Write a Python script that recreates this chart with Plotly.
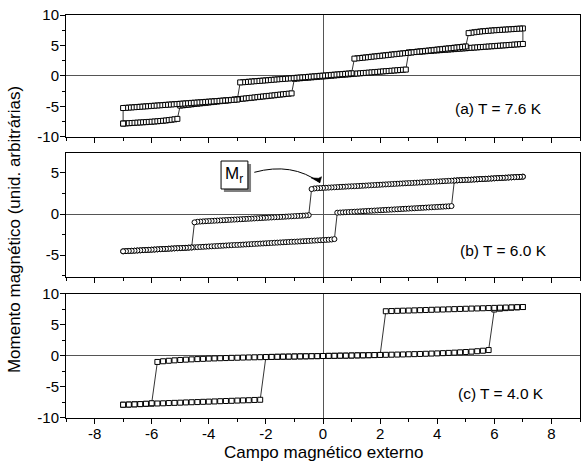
import plotly.graph_objects as go

# ---------------- data ----------------
H_FINE = [-7.0, -6.9, -6.8, -6.7, -6.6, -6.5, -6.4, -6.3, -6.2, -6.1,
          -6.0, -5.9, -5.8, -5.7, -5.6, -5.5, -5.4, -5.3, -5.2, -5.1,
          -5.0, -4.9, -4.8, -4.7, -4.6, -4.5, -4.4, -4.3, -4.2, -4.1,
          -4.0, -3.9, -3.8, -3.7, -3.6, -3.5, -3.4, -3.3, -3.2, -3.1,
          -3.0, -2.9, -2.8, -2.7, -2.6, -2.5, -2.4, -2.3, -2.2, -2.1,
          -2.0, -1.9, -1.8, -1.7, -1.6, -1.5, -1.4, -1.3, -1.2, -1.1,
          -1.0, -0.9, -0.8, -0.7, -0.6, -0.5, -0.4, -0.3, -0.2, -0.1,
          0.0, 0.1, 0.2, 0.3, 0.4, 0.5, 0.6, 0.7, 0.8, 0.9,
          1.0, 1.1, 1.2, 1.3, 1.4, 1.5, 1.6, 1.7, 1.8, 1.9,
          2.0, 2.1, 2.2, 2.3, 2.4, 2.5, 2.6, 2.7, 2.8, 2.9,
          3.0, 3.1, 3.2, 3.3, 3.4, 3.5, 3.6, 3.7, 3.8, 3.9,
          4.0, 4.1, 4.2, 4.3, 4.4, 4.5, 4.6, 4.7, 4.8, 4.9,
          5.0, 5.1, 5.2, 5.3, 5.4, 5.5, 5.6, 5.7, 5.8, 5.9,
          6.0, 6.1, 6.2, 6.3, 6.4, 6.5, 6.6, 6.7, 6.8, 6.9,
          7.0]
H_FINE_DOWN = H_FINE[::-1]

# (a) T = 7.6 K  -- field increasing
M_A_UP = [-7.80, -7.77, -7.74, -7.71, -7.68, -7.65, -7.62, -7.59, -7.56, -7.53,
          -7.50, -7.46, -7.42, -7.38, -7.34, -7.29, -7.23, -7.17, -7.10, -7.03,
          -4.85, -4.80, -4.75, -4.70, -4.64, -4.59, -4.54, -4.49, -4.44, -4.39,
          -4.34, -4.28, -4.23, -4.18, -4.13, -4.08, -4.03, -3.98, -3.93, -3.87,
          -3.82, -3.77, -3.72, -3.67, -3.62, -3.57, -3.52, -3.46, -3.41, -3.36,
          -3.31, -3.26, -3.21, -3.16, -3.10, -3.05, -3.00, -2.95, -2.90, -2.85,
          -0.45, -0.41, -0.37, -0.33, -0.30, -0.26, -0.22, -0.18, -0.14, -0.10,
          -0.06, -0.03, 0.01, 0.05, 0.09, 0.13, 0.17, 0.21, 0.24, 0.28,
          0.32, 0.36, 0.40, 0.44, 0.48, 0.51, 0.55, 0.59, 0.63, 0.67,
          0.71, 0.75, 0.79, 0.82, 0.86, 0.90, 0.94, 0.98, 1.02, 1.05,
          3.85, 3.89, 3.92, 3.96, 3.99, 4.03, 4.06, 4.10, 4.13, 4.17,
          4.20, 4.24, 4.27, 4.31, 4.34, 4.38, 4.41, 4.45, 4.48, 4.52,
          4.55, 4.59, 4.62, 4.66, 4.69, 4.73, 4.76, 4.80, 4.83, 4.87,
          4.90, 4.94, 4.97, 5.01, 5.04, 5.08, 5.11, 5.15, 5.18, 5.22,
          5.25]
# (a) field decreasing (7 -> -7)
M_A_DOWN = [7.80, 7.77, 7.74, 7.71, 7.68, 7.65, 7.62, 7.59, 7.56, 7.53,
            7.50, 7.46, 7.42, 7.38, 7.34, 7.29, 7.23, 7.17, 7.10, 7.03,
            4.85, 4.80, 4.75, 4.70, 4.64, 4.59, 4.54, 4.49, 4.44, 4.39,
            4.34, 4.28, 4.23, 4.18, 4.13, 4.08, 4.03, 3.98, 3.93, 3.87,
            3.82, 3.77, 3.72, 3.67, 3.62, 3.57, 3.52, 3.46, 3.41, 3.36,
            3.31, 3.26, 3.21, 3.16, 3.10, 3.05, 3.00, 2.95, 2.90, 2.85,
            0.45, 0.41, 0.37, 0.33, 0.30, 0.26, 0.22, 0.18, 0.14, 0.10,
            0.06, 0.03, -0.01, -0.05, -0.09, -0.13, -0.17, -0.21, -0.24, -0.28,
            -0.32, -0.36, -0.40, -0.44, -0.48, -0.51, -0.55, -0.59, -0.63, -0.67,
            -0.71, -0.75, -0.79, -0.82, -0.86, -0.90, -0.94, -0.98, -1.02, -1.05,
            -3.85, -3.89, -3.92, -3.96, -3.99, -4.03, -4.06, -4.10, -4.13, -4.17,
            -4.20, -4.24, -4.27, -4.31, -4.34, -4.38, -4.41, -4.45, -4.48, -4.52,
            -4.55, -4.59, -4.62, -4.66, -4.69, -4.73, -4.76, -4.80, -4.83, -4.87,
            -4.90, -4.94, -4.97, -5.01, -5.04, -5.08, -5.11, -5.15, -5.18, -5.22,
            -5.25]

# (b) T = 6.0 K -- field increasing
M_B_UP = [-4.55, -4.53, -4.51, -4.49, -4.47, -4.45, -4.43, -4.41, -4.39, -4.37,
          -4.35, -4.33, -4.31, -4.29, -4.27, -4.25, -4.23, -4.21, -4.19, -4.17,
          -4.16, -4.14, -4.12, -4.10, -4.08, -4.06, -4.04, -4.02, -4.00, -3.98,
          -3.96, -3.94, -3.92, -3.90, -3.88, -3.86, -3.84, -3.82, -3.80, -3.78,
          -3.77, -3.75, -3.73, -3.71, -3.69, -3.67, -3.65, -3.63, -3.61, -3.59,
          -3.57, -3.55, -3.53, -3.51, -3.49, -3.47, -3.45, -3.43, -3.41, -3.39,
          -3.38, -3.36, -3.34, -3.32, -3.30, -3.28, -3.26, -3.24, -3.22, -3.20,
          -3.18, -3.16, -3.14, -3.11, -3.06, 0.16, 0.18, 0.20, 0.22, 0.24,
          0.26, 0.28, 0.30, 0.32, 0.34, 0.36, 0.38, 0.40, 0.42, 0.44,
          0.46, 0.48, 0.50, 0.52, 0.54, 0.56, 0.58, 0.60, 0.62, 0.64,
          0.66, 0.68, 0.70, 0.72, 0.74, 0.76, 0.78, 0.80, 0.82, 0.84,
          0.86, 0.88, 0.90, 0.92, 0.94, 0.97, 4.08, 4.10, 4.12, 4.14,
          4.16, 4.17, 4.19, 4.21, 4.23, 4.25, 4.27, 4.29, 4.31, 4.33,
          4.35, 4.37, 4.39, 4.41, 4.43, 4.45, 4.47, 4.49, 4.51, 4.53,
          4.55]
# (b) field decreasing (7 -> -7)
M_B_DOWN = [4.55, 4.53, 4.51, 4.49, 4.47, 4.45, 4.43, 4.41, 4.39, 4.37,
            4.35, 4.33, 4.31, 4.29, 4.27, 4.25, 4.23, 4.21, 4.19, 4.17,
            4.16, 4.14, 4.12, 4.10, 4.08, 4.06, 4.04, 4.02, 4.00, 3.98,
            3.96, 3.94, 3.92, 3.90, 3.88, 3.86, 3.84, 3.82, 3.80, 3.78,
            3.77, 3.75, 3.73, 3.71, 3.69, 3.67, 3.65, 3.63, 3.61, 3.59,
            3.57, 3.55, 3.53, 3.51, 3.49, 3.47, 3.45, 3.43, 3.41, 3.39,
            3.38, 3.36, 3.34, 3.32, 3.30, 3.28, 3.26, 3.24, 3.22, 3.20,
            3.18, 3.16, 3.14, 3.11, 3.04, -0.14, -0.18, -0.20, -0.22, -0.24,
            -0.26, -0.28, -0.30, -0.32, -0.34, -0.36, -0.38, -0.40, -0.42, -0.44,
            -0.46, -0.48, -0.50, -0.52, -0.54, -0.56, -0.58, -0.60, -0.62, -0.64,
            -0.66, -0.68, -0.70, -0.72, -0.74, -0.76, -0.78, -0.80, -0.82, -0.84,
            -0.86, -0.88, -0.90, -0.92, -0.95, -1.02, -4.08, -4.10, -4.12, -4.14,
            -4.16, -4.17, -4.19, -4.21, -4.23, -4.25, -4.27, -4.29, -4.31, -4.33,
            -4.35, -4.37, -4.39, -4.41, -4.43, -4.45, -4.47, -4.49, -4.51, -4.53,
            -4.55]

# (c) T = 4.0 K -- coarser field steps
H_COARSE = [-7.0, -6.8, -6.6, -6.4, -6.2, -6.0, -5.8, -5.6, -5.4, -5.2,
            -5.0, -4.8, -4.6, -4.4, -4.2, -4.0, -3.8, -3.6, -3.4, -3.2,
            -3.0, -2.8, -2.6, -2.4, -2.2, -2.0, -1.8, -1.6, -1.4, -1.2,
            -1.0, -0.8, -0.6, -0.4, -0.2, 0.0, 0.2, 0.4, 0.6, 0.8,
            1.0, 1.2, 1.4, 1.6, 1.8, 2.0, 2.2, 2.4, 2.6, 2.8,
            3.0, 3.2, 3.4, 3.6, 3.8, 4.0, 4.2, 4.4, 4.6, 4.8,
            5.0, 5.2, 5.4, 5.6, 5.8, 6.0, 6.2, 6.4, 6.6, 6.8,
            7.0]
H_COARSE_DOWN = H_COARSE[::-1]
M_C_UP = [-7.86, -7.83, -7.79, -7.76, -7.73, -7.69, -7.66, -7.63, -7.59, -7.56,
          -7.53, -7.49, -7.46, -7.43, -7.39, -7.36, -7.33, -7.29, -7.26, -7.23,
          -7.19, -7.16, -7.13, -7.09, -7.06, -0.16, -0.15, -0.13, -0.11, -0.10,
          -0.08, -0.06, -0.05, -0.03, -0.02, 0.00, 0.02, 0.03, 0.05, 0.06,
          0.08, 0.10, 0.11, 0.13, 0.15, 0.17, 0.19, 0.21, 0.23, 0.25,
          0.28, 0.30, 0.33, 0.36, 0.39, 0.42, 0.46, 0.50, 0.54, 0.59,
          0.64, 0.70, 0.77, 0.85, 0.96, 7.50, 7.63, 7.72, 7.79, 7.85,
          7.90]
M_C_DOWN = [7.90, 7.87, 7.84, 7.82, 7.79, 7.76, 7.73, 7.70, 7.67, 7.65,
            7.62, 7.59, 7.56, 7.53, 7.50, 7.48, 7.45, 7.42, 7.39, 7.36,
            7.33, 7.31, 7.28, 7.25, 7.22, 0.17, 0.15, 0.13, 0.11, 0.10,
            0.08, 0.06, 0.05, 0.03, 0.02, 0.00, -0.02, -0.03, -0.05, -0.06,
            -0.08, -0.10, -0.11, -0.13, -0.15, -0.17, -0.19, -0.21, -0.23, -0.25,
            -0.28, -0.30, -0.33, -0.36, -0.39, -0.42, -0.46, -0.50, -0.54, -0.59,
            -0.64, -0.70, -0.77, -0.85, -0.96, -7.62, -7.70, -7.76, -7.80, -7.83,
            -7.86]

PANEL_LABELS = ["(a) T = 7.6 K", "(b) T = 6.0 K", "(c) T = 4.0 K"]
X_TICKS = [-8, -6, -4, -2, 0, 2, 4, 6, 8]
X_TICK_TEXT = ["-8", "-6", "-4", "-2", "0", "2", "4", "6", "8"]
Y_TICKS_AC = [-10, -5, 0, 5, 10]
Y_TICK_TEXT_AC = ["-10", "-5", "0", "5", "10"]
Y_TICKS_B = [-5, 0, 5]
Y_TICK_TEXT_B = ["-5", "0", "5"]
X_TITLE = "Campo magnético externo"
Y_TITLE = "Momento magnético (unid. arbitrárias)"

FONT = "Liberation Sans, Arial, sans-serif"

# ---------------- figure ----------------
fig = go.Figure()

def add_loop(h, m, xa, ya, symbol):
    fig.add_trace(go.Scatter(
        x=h, y=m, mode="lines+markers", xaxis=xa, yaxis=ya,
        line=dict(color="black", width=0.8),
        marker=dict(symbol=symbol, size=5, color="white",
                    line=dict(color="black", width=1)),
        showlegend=False, hoverinfo="skip"))

add_loop(H_FINE + H_FINE_DOWN + [H_FINE[0]], M_A_UP + M_A_DOWN + [M_A_UP[0]], "x", "y", "square")
add_loop(H_FINE + H_FINE_DOWN, M_B_UP + M_B_DOWN, "x2", "y2", "circle")
add_loop(H_COARSE + H_COARSE_DOWN, M_C_UP + M_C_DOWN, "x3", "y3", "square")

def xax(anchor, labels):
    return dict(domain=[0, 1], anchor=anchor, range=[-9, 9], automargin=False,
                tickvals=X_TICKS, ticktext=X_TICK_TEXT, showticklabels=labels,
                ticklabelstandoff=-3,
                ticks="outside", ticklen=5, tickwidth=1, tickcolor="black",
                minor=dict(dtick=1, tick0=0, ticks="outside", ticklen=3,
                           tickcolor="black", tickwidth=1, showgrid=False),
                showline=True, linecolor="black", linewidth=1, mirror=True,
                showgrid=False, zeroline=True, zerolinecolor="#555555",
                zerolinewidth=1,
                tickfont=dict(family=FONT, size=15, color="black"))

def yax(anchor, dom, rng, ticks, text):
    return dict(domain=dom, anchor=anchor, range=rng, automargin=False,
                tickvals=ticks, ticktext=text, ticklabelstandoff=-2,
                ticks="outside", ticklen=5, tickwidth=1, tickcolor="black",
                minor=dict(dtick=2.5, tick0=0, ticks="outside", ticklen=3,
                           tickcolor="black", tickwidth=1, showgrid=False),
                showline=True, linecolor="black", linewidth=1, mirror=True,
                showgrid=False, zeroline=True, zerolinecolor="#555555",
                zerolinewidth=1,
                tickfont=dict(family=FONT, size=15, color="black"))

fig.update_layout(
    width=587, height=462, autosize=False,
    margin=dict(l=66, r=7, t=15, b=44, autoexpand=False),
    paper_bgcolor="white", plot_bgcolor="white",
    font=dict(family=FONT, color="black"),
    xaxis=xax("y", False),
    xaxis2=xax("y2", False),
    xaxis3=xax("y3", True),
    yaxis=yax("x", [0.6973, 1.0], [-10, 10], Y_TICKS_AC, Y_TICK_TEXT_AC),
    yaxis2=yax("x2", [0.3499, 0.6576], [-7.68, 7.44], Y_TICKS_B, Y_TICK_TEXT_B),
    yaxis3=yax("x3", [0.0, 0.3077], [-10, 10], Y_TICKS_AC, Y_TICK_TEXT_AC),
)

ann = []
# panel labels
for lab, xr, yr, xv, yv in zip(PANEL_LABELS, ["x", "x2", "x3"], ["y", "y2", "y3"],
                               [4.54, 4.73, 4.66], [-5.41, -4.39, -6.02]):
    ann.append(dict(text=lab, x=xv, y=yv, xref=xr, yref=yr, xanchor="left",
                    yanchor="middle", showarrow=False,
                    font=dict(family=FONT, size=15.5, color="black")))
# axis titles
ann.append(dict(text=X_TITLE, x=0.5, y=-0.086, xref="paper", yref="paper",
                xanchor="center", yanchor="middle", showarrow=False,
                font=dict(family=FONT, size=17, color="black")))
ann.append(dict(text=Y_TITLE, x=-0.101, y=0.4665, xref="paper", yref="paper",
                xanchor="center", yanchor="middle", textangle=-90, showarrow=False,
                font=dict(family=FONT, size=17, color="black")))
# M_r label
ann.append(dict(text="M<sub>r</sub>", x=-3.10, y=4.76, xref="x2", yref="y2",
                xanchor="center", yanchor="middle", showarrow=False,
                font=dict(family=FONT, size=17, color="black")))
fig.update_layout(annotations=ann)

shapes = [
    # shadow of the M_r box
    dict(type="rect", xref="x2", yref="y2", x0=-3.47, x1=-2.52, y0=2.68, y1=6.10,
         fillcolor="#7f7f7f", line=dict(width=0), layer="above"),
    # M_r box
    dict(type="rect", xref="x2", yref="y2", x0=-3.57, x1=-2.63, y0=3.05, y1=6.46,
         fillcolor="white", line=dict(color="black", width=1), layer="above"),
    # curved arrow
    dict(type="path", xref="x2", yref="y2",
         path="M -2.405,5.085 Q -1.085,6.34 -0.105,3.82",
         line=dict(color="black", width=1), layer="above"),
    # arrow head
    dict(type="path", xref="x2", yref="y2",
         path="M -0.105,3.82 L -0.42,4.42 L -0.16,4.36 L -0.05,4.55 Z",
         fillcolor="black", line=dict(color="black", width=0.5), layer="above"),
]
fig.update_layout(shapes=shapes)

fig.write_html("out.html",
               config={"displayModeBar": False},
               post_script="document.body.style.margin='0px';"
                           "document.body.style.overflow='hidden';")
